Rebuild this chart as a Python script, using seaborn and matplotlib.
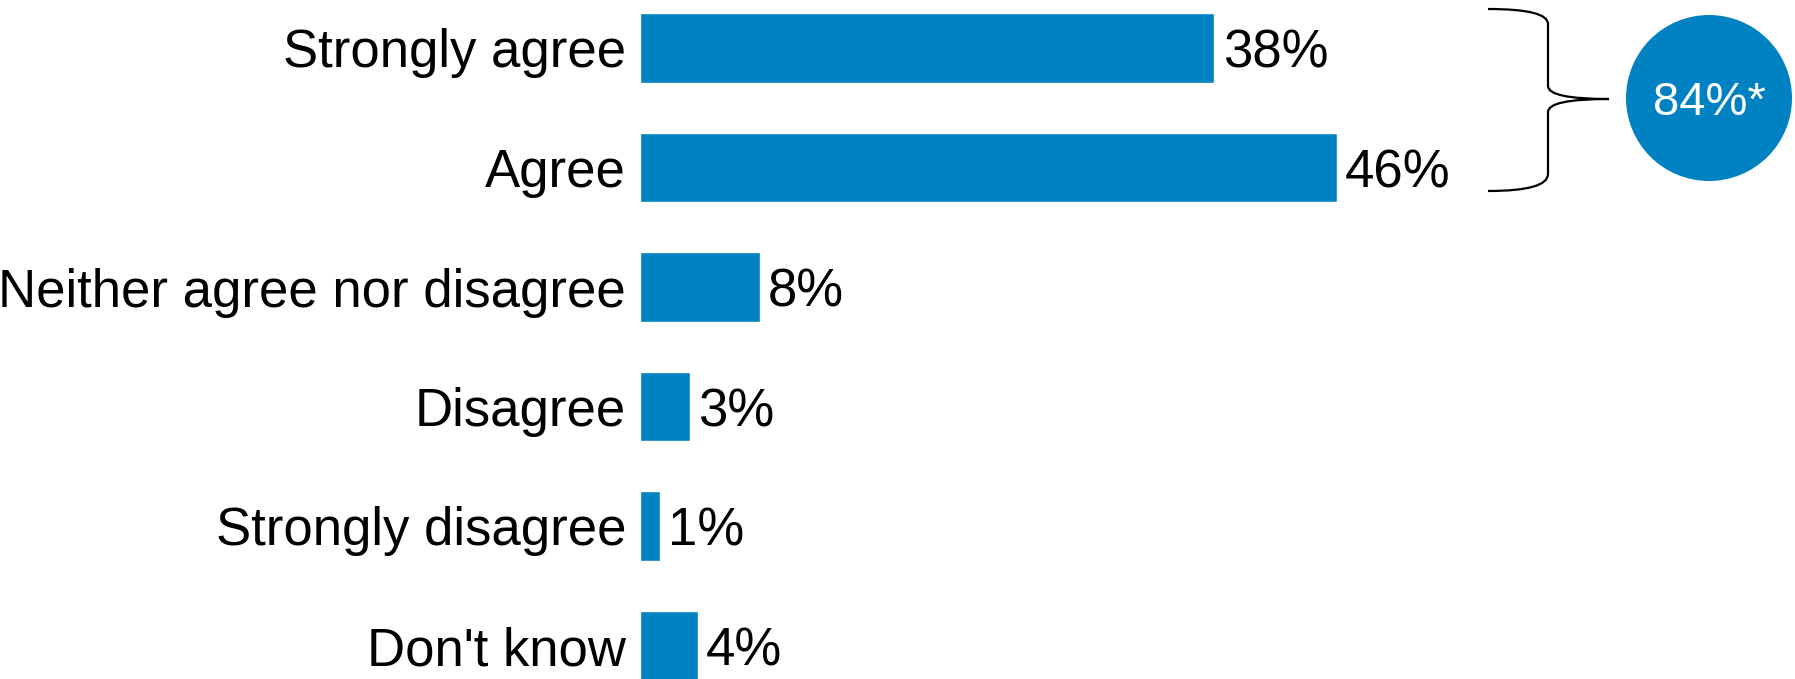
import pandas as pd
import matplotlib
matplotlib.use('Agg')
import matplotlib.pyplot as plt
import seaborn as sns
from matplotlib.path import Path
from matplotlib.patches import PathPatch, Circle

# data
categories = ['Strongly agree', 'Agree', 'Neither agree nor disagree',
              'Disagree', 'Strongly disagree', "Don't know"]
values = [37.9, 46.0, 7.9, 3.3, 1.3, 3.8]
value_labels = ['38%', '46%', '8%', '3%', '1%', '4%']
agree_total = '84%*'

blue = '#0081C2'

sns.set_theme(style='white')
plt.rcParams['font.family'] = ['Liberation Sans', 'DejaVu Sans']

df = pd.DataFrame({'answer': categories, 'share': values})

W, H = 1795, 679
fig = plt.figure(figsize=(W / 100, H / 100), dpi=100)
ax = fig.add_axes([640 / W, 0, 1 - 640 / W, 1])

sns.barplot(data=df, y='answer', x='share', color=blue, width=0.585,
            saturation=1, orient='h', ax=ax)

ax.set_xlim(0, 1155 / 15.15)
ax.set_ylim(631 / 119.5, -48 / 119.5)
for s in ax.spines.values():
    s.set_visible(False)
ax.set_xticks([])
ax.set_xlabel('')
ax.set_ylabel('')
ax.tick_params(axis='y', length=0, pad=10, labelsize=38, labelcolor='black')

for i, (v, lab) in enumerate(zip(values, value_labels)):
    ax.annotate(lab, (v, i), xytext=(6, 0), textcoords='offset points',
                va='center_baseline', ha='left', fontsize=38, color='black')

# overlay in pixel coordinates for the brace and the circle
ov = fig.add_axes([0, 0, 1, 1], facecolor='none')
ov.set_xlim(0, W)
ov.set_ylim(H, 0)
ov.axis('off')

verts = [(1488, 9), (1548, 9), (1548, 24), (1548, 86),
         (1548, 99), (1609, 99), (1548, 99), (1548, 112),
         (1548, 174), (1548, 191), (1488, 191)]
codes = [Path.MOVETO, Path.CURVE3, Path.CURVE3, Path.LINETO,
         Path.CURVE3, Path.CURVE3, Path.CURVE3, Path.CURVE3,
         Path.LINETO, Path.CURVE3, Path.CURVE3]
ov.add_patch(PathPatch(Path(verts, codes), fill=False, lw=1.6, color='black'))

ov.add_patch(Circle((1709, 98), 83, color=blue, lw=0))
ov.text(1709, 98, agree_total, color='white', fontsize=34,
        ha='center', va='center_baseline')

fig.savefig('out.png', dpi=100)
